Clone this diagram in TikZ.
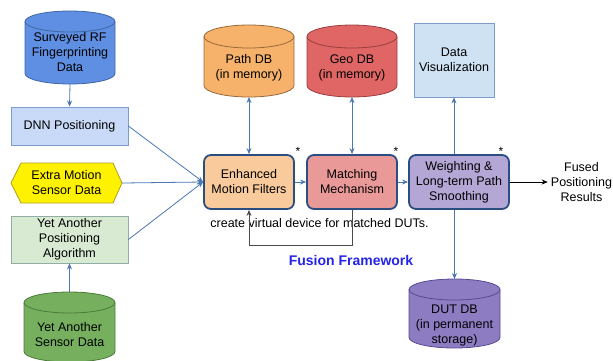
\documentclass[tikz,border=0pt]{standalone}
\usepackage{fontspec}
\setmainfont{Liberation Sans}
\usetikzlibrary{arrows.meta}

% fills and outlines
\definecolor{rfblue}{HTML}{5E8FE2}
\definecolor{rfline}{HTML}{3F67A8}
\definecolor{pathfill}{HTML}{F6B26B}
\definecolor{pathline}{HTML}{9A6A3C}
\definecolor{geofill}{HTML}{E06666}
\definecolor{geoline}{HTML}{9A3E3E}
\definecolor{dutfill}{HTML}{8E7CC3}
\definecolor{dutline}{HTML}{5A4A92}
\definecolor{sensfill}{HTML}{76B05F}
\definecolor{sensline}{HTML}{4C7A3C}
\definecolor{dnnfill}{HTML}{C9DAF8}
\definecolor{dnnline}{HTML}{7C9CCC}
\definecolor{vizfill}{HTML}{CFE2F3}
\definecolor{algfill}{HTML}{D9EAD3}
\definecolor{algline}{HTML}{90AEA6}
\definecolor{hexline}{HTML}{B09C20}
\definecolor{enhfill}{HTML}{F9CB9C}
\definecolor{matchfill}{HTML}{EA9999}
\definecolor{weightfill}{HTML}{B4A7D6}
\definecolor{coreline}{HTML}{2B4E82}
\definecolor{linkblue}{HTML}{4A76B2}
\definecolor{loopgray}{HTML}{4A4A4A}
\definecolor{fusionblue}{HTML}{2424E8}

% database cylinder: name, centre x, top y, bottom y, half width, cap radius, style, text y, text
\newcommand\dbcyl[9]{%
  \draw[#7] (#2-#5,#3+#6) -- (#2-#5,#4-#6)
    arc[start angle=180,end angle=360,x radius=#5pt,y radius=#6pt]
    -- (#2+#5,#3+#6)
    arc[start angle=0,end angle=180,x radius=#5pt,y radius=#6pt] -- cycle;
  \draw[#7,fill=none] (#2-#5,#3+#6)
    arc[start angle=180,end angle=360,x radius=#5pt,y radius=#6pt];
  \node[inner sep=0pt,outer sep=0pt,minimum width={2*#5*1pt},
        minimum height={(#4-#3)*1pt}] (#1) at (#2,{(#3+#4)/2}) {};
  \node[lbl] (#1-t) at (#2,#8) {#9};
}

\begin{document}
\begin{tikzpicture}[x=1pt,y=-1pt,
  lbl/.style={font=\fontsize{12.5}{15}\selectfont, align=center, inner sep=0pt},
  plainbox/.style={lbl, draw, line width=0.8pt},
  corebox/.style={lbl, draw=coreline, line width=1.8pt, rounded corners=7pt,
                  minimum height=54pt},
  link/.style={draw=linkblue, line width=0.8pt, -{Stealth[length=6pt,width=5pt]}},
  duplex/.style={draw=linkblue, line width=0.8pt,
                 {Stealth[length=6pt,width=5pt]}-{Stealth[length=6pt,width=5pt]}},
  feedback/.style={draw=loopgray, line width=0.8pt, -{Stealth[length=6pt,width=5pt]}},
  outlink/.style={draw=black, line width=0.8pt, -{Stealth[length=6pt,width=5pt]}},
  starmark/.style={font=\fontsize{12}{12}\selectfont, inner sep=0pt},
]
\useasboundingbox (0,0) rectangle (613,360);
\clip (0,0) rectangle (613,360);

% data stores
\dbcyl{rfdata}{70}{11}{84}{45}{10.5}{fill=rfblue,draw=rfline,line width=0.8pt}{52.5}{Surveyed RF\\Fingerprinting\\Data}
\dbcyl{pathdb}{249}{25}{97}{45}{11.5}{fill=pathfill,draw=pathline,line width=0.8pt}{67.5}{Path DB\\(in memory)}
\dbcyl{geodb}{352}{25}{97}{45}{11.5}{fill=geofill,draw=geoline,line width=0.8pt}{67.5}{Geo DB\\(in memory)}
\dbcyl{dutdb}{454.5}{279}{348}{45.5}{10.5}{fill=dutfill,draw=dutline,line width=0.8pt}{325}{DUT DB\\(in permanent\\storage)}
\dbcyl{sensor}{69.5}{292}{362}{45.5}{10.5}{fill=sensfill,draw=sensline,line width=0.8pt}{335}{Yet Another\\Sensor Data}

% input side
\node[plainbox, draw=dnnline, fill=dnnfill, minimum width=117pt, minimum height=38pt]
  (dnn) at (69.5,126) {DNN Positioning};
\draw[fill=yellow, draw=hexline, line width=0.8pt]
  (11,183) -- (21,163) -- (113,163) -- (122,183) -- (113,203) -- (21,203) -- cycle;
\node[lbl, minimum width=111pt, minimum height=40pt] (motion) at (66.5,183)
  {Extra Motion\\Sensor Data};
\node[plainbox, draw=algline, fill=algfill, minimum width=117pt, minimum height=47pt]
  (yapa) at (69.5,239.5) {Yet Another\\Positioning\\Algorithm};

% output side
\node[plainbox, draw=dnnline, fill=vizfill, minimum width=80pt, minimum height=74pt]
  (viz) at (454,60) {Data\\Visualization};

% fusion core
\node[corebox, fill=enhfill, minimum width=90pt] (enh) at (249,182)
  {Enhanced\\Motion Filters};
\node[corebox, fill=matchfill, minimum width=90pt] (match) at (352,182)
  {Matching\\Mechanism};
\node[corebox, fill=weightfill, minimum width=100pt] (weight) at (459,182)
  {Weighting \&\\Long-term Path\\Smoothing};
\node[starmark] (star1) at (298,151) {*};
\node[starmark] (star2) at (396,151) {*};
\node[starmark] (star3) at (501,151) {*};

\node[lbl, inner sep=3pt] (fused) at (581.5,182) {Fused\\Positioning\\Results};
\node[lbl] (note) at (319.5,223) {create virtual device for matched DUTs.};
\node[font=\fontsize{14}{16}\selectfont\bfseries, text=fusionblue, inner sep=0pt]
  (fw) at (351,260) {Fusion Framework};

% connectors
\draw[link] (rfdata.south) -- (dnn.north);
\draw[link] (sensor.north) -- (yapa.south);
\draw[link] (dnn.east) -- (enh.west);
\draw[link] (motion.east) -- (enh.west);
\draw[link] (yapa.east) -- (enh.west);
\draw[link] (enh.east) -- (match.west);
\draw[link] (match.east) -- (weight.west);
\draw[duplex] (pathdb.south) -- (enh.north);
\draw[duplex] (geodb.south) -- (match.north);
\draw[link] (viz.south |- weight.north) -- (viz.south);
\draw[link] (dutdb.north |- weight.south) -- (dutdb.north);
\draw[feedback] (match.south) -- ++(0,35) -| (enh.south);
\draw[outlink] (weight.east) -- (fused.west);
\end{tikzpicture}
\end{document}
